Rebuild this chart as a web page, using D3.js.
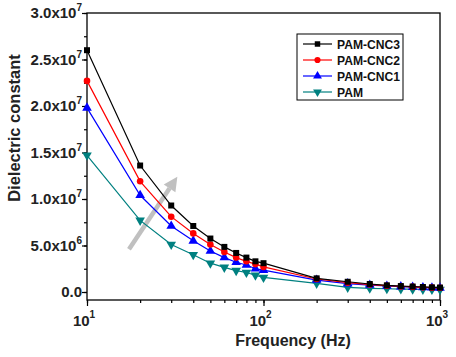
<!DOCTYPE html>
<html><head><meta charset="utf-8">
<script src="https://cdn.jsdelivr.net/npm/d3@7"></script>
<style>
body{margin:0;background:#fff;}
text{font-family:"Liberation Sans",Arial,sans-serif;font-weight:bold;}
</style></head>
<body><svg id="c" width="456" height="357"></svg>
<script>
const freqs = [10,20,30,40,50,60,70,80,90,100,200,300,400,500,600,700,800,900,1000];
const cnc3 = [2.60e7,1.36e7,0.93e7,0.71e7,0.575e7,0.485e7,0.42e7,0.37e7,0.33e7,0.31e7,0.147e7,0.11e7,0.086e7,0.072e7,0.064e7,0.059e7,0.054e7,0.050e7,0.048e7];
const cnc2 = [2.27e7,1.19e7,0.81e7,0.63e7,0.51e7,0.43e7,0.37e7,0.33e7,0.30e7,0.27e7,0.14e7,0.10e7,0.08e7,0.068e7,0.06e7,0.055e7,0.05e7,0.047e7,0.045e7];
const cnc1 = [1.98e7,1.04e7,0.71e7,0.55e7,0.44e7,0.37e7,0.32e7,0.29e7,0.25e7,0.235e7,0.128e7,0.09e7,0.075e7,0.065e7,0.058e7,0.052e7,0.048e7,0.045e7,0.042e7];
const pam  = [1.47e7,0.77e7,0.51e7,0.40e7,0.31e7,0.265e7,0.23e7,0.21e7,0.18e7,0.157e7,0.093e7,0.05e7,0.04e7,0.035e7,0.032e7,0.03e7,0.028e7,0.027e7,0.026e7];
const seriesNames = ["PAM-CNC3","PAM-CNC2","PAM-CNC1","PAM"];
const seriesColors = ["#000000","#ff0000","#0000ff","#008080"];
const seriesSymbols = ["square","circle","triangle","triangleDown"];
const yTicks = [0,5e6,1e7,1.5e7,2e7,2.5e7,3e7];
const yTickLabels = [["0.0",""],["5.0x10","6"],["1.0x10","7"],["1.5x10","7"],["2.0x10","7"],["2.5x10","7"],["3.0x10","7"]];
const xTicks = [10,100,1000];
const xTickLabels = [["10","1"],["10","2"],["10","3"]];
const arrowFrom = [17.3, 4.6e6], arrowTo = [32.5, 12.4e6];

const svg = d3.select("#c");
const L=87,R=440,T=13,B=300;
const x = d3.scaleLog().domain([10,1000]).range([L,R]);
const y = d3.scaleLinear().domain([-0.86e6,3.0e7]).range([B,T]);

// frame
svg.append("rect").attr("x",L).attr("y",T).attr("width",R-L).attr("height",B-T)
  .attr("fill","none").attr("stroke","#000").attr("stroke-width",1.3);

// y axis
const yMinor = d3.range(0,3.01e7,2.5e6);
const gy = svg.append("g").attr("transform",`translate(${L},0)`);
gy.call(d3.axisLeft(y).tickValues(yMinor).tickSize(3).tickFormat(""));
gy.select(".domain").remove();
gy.selectAll(".tick line").attr("stroke-width",1.2);
const gy2 = svg.append("g").attr("transform",`translate(${L},0)`);
gy2.call(d3.axisLeft(y).tickValues(yTicks).tickSize(5).tickFormat(""));
gy2.select(".domain").remove();
gy2.selectAll(".tick line").attr("stroke-width",1.2);
yTicks.forEach((v,i)=>{
  const t = svg.append("text").attr("x",L-5).attr("y",y(v)+5).attr("text-anchor","end")
    .attr("font-size",15).attr("fill","#222");
  if(yTickLabels[i][1]){
    t.append("tspan").text(yTickLabels[i][0]);
    t.append("tspan").attr("font-size",10).attr("dy",-7).text(yTickLabels[i][1]);
  } else t.text(yTickLabels[i][0]);
});

// x axis
const xMinor = [];
[10,100].forEach(d=>{for(let k=1;k<10;k++) xMinor.push(d*k);}); xMinor.push(1000);
const gx = svg.append("g").attr("transform",`translate(0,${B})`);
gx.call(d3.axisBottom(x).tickValues(xMinor).tickSize(3).tickFormat(""));
gx.select(".domain").remove();
gx.selectAll(".tick line").attr("stroke-width",1.2);
const gx2 = svg.append("g").attr("transform",`translate(0,${B})`);
gx2.call(d3.axisBottom(x).tickValues(xTicks).tickSize(6).tickFormat(""));
gx2.select(".domain").remove();
gx2.selectAll(".tick line").attr("stroke-width",1.2);
xTicks.forEach((v,i)=>{
  const t = svg.append("text").attr("x",x(v)-3).attr("y",326).attr("text-anchor","middle")
    .attr("font-size",15).attr("fill","#222");
  t.append("tspan").text(xTickLabels[i][0]);
  t.append("tspan").attr("font-size",10).attr("dy",-8).text(xTickLabels[i][1]);
});

// titles
svg.append("text").attr("x",293).attr("y",346).attr("text-anchor","middle").attr("font-size",16).attr("fill","#222").text("Frequency (Hz)");
svg.append("text").attr("transform","translate(20,128) rotate(-90)").attr("text-anchor","middle").attr("font-size",16.5).attr("fill","#222").text("Dielectric constant");

// symbols
const symMap = {square:d3.symbolSquare,circle:d3.symbolCircle,triangle:d3.symbolTriangle,triangleDown:d3.symbolTriangle};
function sym(g,type,color,size){
  const p = g.append("path").attr("d",d3.symbol().type(symMap[type]).size(size)()).attr("fill",color);
  if(type==="triangleDown") p.attr("transform","rotate(180)");
  return p;
}

// arrow
const ax1=x(arrowFrom[0]),ay1=y(arrowFrom[1]),ax2=x(arrowTo[0]),ay2=y(arrowTo[1]);
const ang = Math.atan2(ay2-ay1,ax2-ax1);
const hl=14, hw=7;
const bx=ax2-hl*Math.cos(ang), by=ay2-hl*Math.sin(ang);
svg.append("line").attr("x1",ax1).attr("y1",ay1).attr("x2",bx).attr("y2",by)
  .attr("stroke","#c0c0c0").attr("stroke-width",4.5);
svg.append("path").attr("d",`M${ax2},${ay2}L${bx+hw*Math.sin(ang)},${by-hw*Math.cos(ang)}L${bx-hw*Math.sin(ang)},${by+hw*Math.cos(ang)}Z`)
  .attr("fill","#c0c0c0");

// series (draw PAM first so CNC3 on top)
const allSeries = [cnc3,cnc2,cnc1,pam];
const line = d3.line().x((d,i)=>x(freqs[i])).y(d=>y(d));
[3,2,1,0].forEach(si=>{
  const data = allSeries[si];
  svg.append("path").datum(data).attr("d",line).attr("fill","none").attr("stroke",seriesColors[si]).attr("stroke-width",1.2);
  data.forEach((v,i)=>{
    const g = svg.append("g").attr("transform",`translate(${x(freqs[i])},${y(v)})`);
    sym(g,seriesSymbols[si],seriesColors[si],seriesSymbols[si]==="circle"?34:(seriesSymbols[si]==="square"?36:40));
  });
});

// legend
svg.append("rect").attr("x",297).attr("y",34).attr("width",106).attr("height",66).attr("fill","#fff").attr("stroke","#000").attr("stroke-width",1);
const legTexts = [];
seriesNames.forEach((n,i)=>{
  const ly = 44+i*16;
  svg.append("line").attr("x1",303).attr("x2",332).attr("y1",ly).attr("y2",ly).attr("stroke",seriesColors[i]).attr("stroke-width",1.2);
  const g = svg.append("g").attr("transform",`translate(317.5,${ly})`);
  sym(g,seriesSymbols[i],seriesColors[i],seriesSymbols[i]==="circle"?30:(seriesSymbols[i]==="square"?30:34));
  legTexts.push(svg.append("text").attr("x",337).attr("y",ly+4.5).attr("font-size",12.5).attr("fill","#111").text(n));
});
// stretch legend text horizontally so the longest label spans the reference width
const base = legTexts[0].node().getComputedTextLength();
const k = 63 / base;
legTexts.forEach(t=>{
  const w = t.node().getComputedTextLength();
  t.attr("textLength", w*k).attr("lengthAdjust","spacingAndGlyphs");
});
</script></body></html>
